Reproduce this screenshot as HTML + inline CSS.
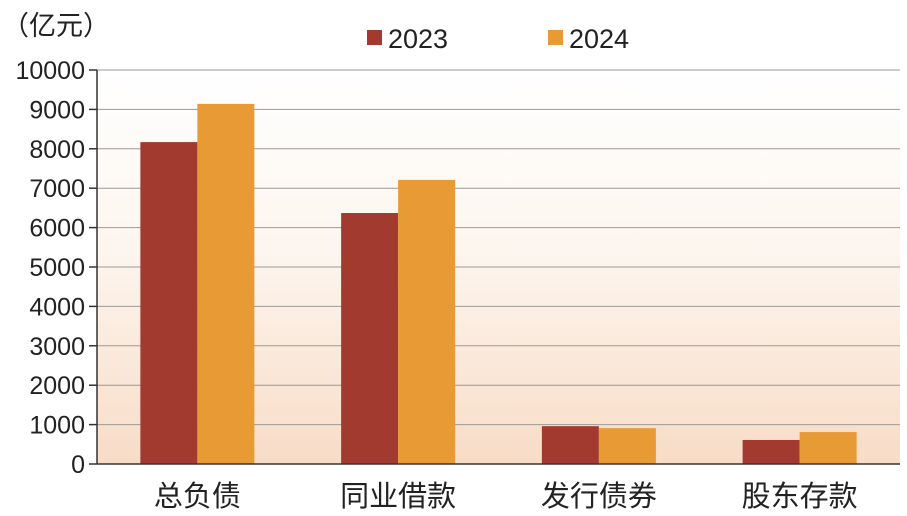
<!DOCTYPE html>
<html><head><meta charset="utf-8">
<style>
body{margin:0;background:#fff;}
svg{display:block;font-family:"Liberation Sans","Noto Sans CJK SC",sans-serif;}
</style></head>
<body>
<svg id="chart" width="907" height="516" viewBox="0 0 907 516">
<defs>
<linearGradient id="bg" x1="0" y1="0" x2="0" y2="1">
<stop offset="0" stop-color="#ffffff"/>
<stop offset="0.45" stop-color="#fdf6ef"/>
<stop offset="1" stop-color="#f8dcc6"/>
</linearGradient>
</defs>
<rect x="97" y="70" width="803" height="394" fill="url(#bg)"/>
<g id="grid"></g>
<g id="bars"></g>
<g id="axes"></g>
<text x="2" y="35" font-size="27" fill="#222">（亿元）</text>
<g>
<rect x="367" y="30" width="15" height="15" fill="#a23a2f"/>
<text x="388" y="48" font-size="27" fill="#222">2023</text>
<rect x="548" y="30" width="15" height="15" fill="#e89a35"/>
<text x="569" y="48" font-size="27" fill="#222">2024</text>
</g>
</svg>
<script>
const categories=["总负债","同业借款","发行债券","股东存款"];
const values2023=[8170,6370,960,610];
const values2024=[9140,7210,910,810];
const yTicks=[0,1000,2000,3000,4000,5000,6000,7000,8000,9000,10000];
const NS="http://www.w3.org/2000/svg";
const plotL=97,plotR=900,plotT=70,plotB=464,yMax=10000;
const band=(plotR-plotL)/categories.length;
function yScale(v){return plotB-(v/yMax)*(plotB-plotT);}
function mk(tag,attrs,parent){const e=document.createElementNS(NS,tag);for(const k in attrs)e.setAttribute(k,attrs[k]);parent.appendChild(e);return e;}
const grid=document.getElementById('grid'),bars=document.getElementById('bars'),axes=document.getElementById('axes');
yTicks.forEach(t=>{
 if(t>0){const g=mk('line',{x1:plotL,x2:plotR,y1:yScale(t),y2:yScale(t),stroke:'#9a9a9a','stroke-width':1},grid);
 
 }
 const tk=mk('line',{x1:plotL-8,x2:plotL,y1:yScale(t),y2:yScale(t),stroke:'#333','stroke-width':1.5},axes);
 
 
 const lb=mk('text',{x:plotL-12,y:yScale(t)+9,'text-anchor':'end','font-size':25,fill:'#222'},axes);
 lb.textContent=t;
 
 
});
const bw=57;
categories.forEach((c,i)=>{
 const cx=plotL+band*(i+0.5);
 const b1=mk('rect',{x:cx-bw,y:yScale(values2023[i]),width:bw,height:plotB-yScale(values2023[i]),fill:'#a23a2f'},bars);
 
 
 const b2=mk('rect',{x:cx,y:yScale(values2024[i]),width:bw,height:plotB-yScale(values2024[i]),fill:'#e89a35'},bars);
 
 
 const l=mk('text',{x:cx,y:506,'text-anchor':'middle','font-size':29,fill:'#222'},axes);
 l.textContent=c;
 
 
});
const ya=mk('line',{x1:plotL,x2:plotL,y1:plotT,y2:plotB,stroke:'#333','stroke-width':1.5},axes);


const xa=mk('line',{x1:plotL,x2:plotR,y1:plotB,y2:plotB,stroke:'#333','stroke-width':1.5},axes);


</script>
</body></html>
